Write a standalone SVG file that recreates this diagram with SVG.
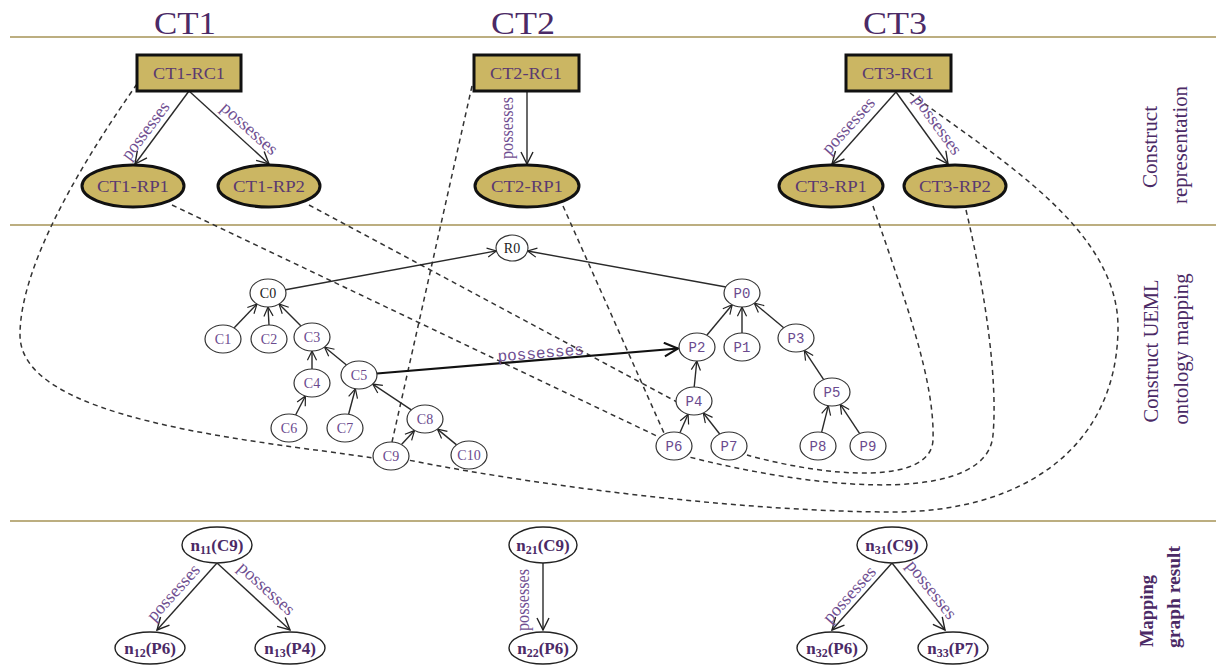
<svg xmlns="http://www.w3.org/2000/svg" width="1216" height="666" viewBox="0 0 1216 666">
<defs>
<style>
.sep{stroke:#bcae80;stroke-width:2}
.title{font-family:"Liberation Serif",serif;font-size:32px;fill:#4b2a66;text-anchor:middle}
.side{font-family:"Liberation Serif",serif;font-size:20px;fill:#4b2a66;text-anchor:middle}
.sideb{font-family:"Liberation Serif",serif;font-size:19px;font-weight:bold;fill:#4b2a66;text-anchor:start}
.box{fill:#cbb663;stroke:#111;stroke-width:3}
.btxt{font-family:"Liberation Serif",serif;font-size:17px;fill:#5a3a70;text-anchor:middle}
.edge{stroke:#2a2a2a;stroke-width:1.4;fill:none}
.thick{stroke:#111;stroke-width:2.2;fill:none}
.dash{stroke:#333;stroke-width:1.5;fill:none;stroke-dasharray:5 4}
.lbl{font-family:"Liberation Serif",serif;font-size:18px;fill:#6f4f91;text-anchor:middle}
.mlbl{font-family:"Liberation Mono",monospace;font-size:16px;fill:#6f4f91;text-anchor:middle}
.tn{fill:#fff;stroke:#333;stroke-width:1.2}
.ct{font-family:"Liberation Serif",serif;font-size:14px;fill:#6a4a8e;text-anchor:middle}
.ck{font-family:"Liberation Serif",serif;font-size:14px;fill:#222;text-anchor:middle}
.pt{font-family:"Liberation Mono",monospace;font-size:14px;fill:#6a4a8e;text-anchor:middle}
.bn{fill:#fff;stroke:#222;stroke-width:1.4}
.nt{font-family:"Liberation Serif",serif;font-size:17px;font-weight:bold;fill:#4b2a66;text-anchor:middle}
</style>
<marker id="arrL" viewBox="0 0 14 14" refX="13" refY="7" markerWidth="14" markerHeight="14" markerUnits="userSpaceOnUse" orient="auto"><path d="M1,1 L13,7 L1,13" fill="none" stroke="#222" stroke-width="1.4"/></marker>
<marker id="arrS" viewBox="0 0 12 12" refX="11" refY="6" markerWidth="11" markerHeight="11" markerUnits="userSpaceOnUse" orient="auto"><path d="M1,1 L11,6 L1,11" fill="none" stroke="#222" stroke-width="1.3"/></marker>
<marker id="arrT" viewBox="0 0 14 14" refX="13" refY="7" markerWidth="16" markerHeight="16" markerUnits="userSpaceOnUse" orient="auto"><path d="M1,1 L13,7 L1,13" fill="none" stroke="#111" stroke-width="1.8"/></marker>
</defs>

<g id="separators">
<line class="sep" x1="10" y1="37" x2="1216" y2="37"/>
<line class="sep" x1="10" y1="225" x2="1216" y2="225"/>
<line class="sep" x1="10" y1="521" x2="1216" y2="521"/>
</g>

<g id="titles">
<text class="title" x="185" y="34" textLength="62" lengthAdjust="spacingAndGlyphs">CT1</text>
<text class="title" x="523" y="34" textLength="64" lengthAdjust="spacingAndGlyphs">CT2</text>
<text class="title" x="895" y="34" textLength="64" lengthAdjust="spacingAndGlyphs">CT3</text>
</g>

<g id="side-labels">
<text class="side" transform="translate(1157,147) rotate(-90)" textLength="82" lengthAdjust="spacingAndGlyphs">Construct</text>
<text class="side" transform="translate(1187,145) rotate(-90)" textLength="118" lengthAdjust="spacingAndGlyphs">representation</text>
<text class="side" transform="translate(1158,351) rotate(-90)" textLength="143" lengthAdjust="spacingAndGlyphs">Construct  UEML</text>
<text class="side" transform="translate(1188,349) rotate(-90)" textLength="151" lengthAdjust="spacingAndGlyphs">ontology mapping</text>
<text class="sideb" transform="translate(1153,647) rotate(-90)" textLength="72" lengthAdjust="spacingAndGlyphs">Mapping</text>
<text class="sideb" transform="translate(1180,648) rotate(-90)" textLength="102" lengthAdjust="spacingAndGlyphs">graph result</text>
</g>

<g id="connectors">
<path class="dash" d="M137,84 C92,148 20,260 20,335 C20,420 250,440 374,458"/>
<path class="dash" d="M910,93 C1000,160 1120,230 1118,330 C1116,450 1020,512 893,512 C760,512 560,490 408,460"/>
<path class="dash" d="M873,206 C905,300 935,380 933,440 C931,485 830,478 747,455"/>
<path class="dash" d="M966,210 C985,290 998,380 993,435 C988,500 840,495 689,457"/>
<line class="dash" x1="172" y1="205" x2="661" y2="438"/>
<line class="dash" x1="309" y1="205" x2="677" y2="402"/>
<line class="dash" x1="563" y1="206" x2="664" y2="433"/>
<line class="dash" x1="472" y1="86" x2="392" y2="442"/>

<line class="edge" x1="189" y1="91" x2="135" y2="164" marker-end="url(#arrL)"/>
<line class="edge" x1="189" y1="91" x2="269" y2="164" marker-end="url(#arrL)"/>
<line class="edge" x1="527" y1="91" x2="527" y2="164" marker-end="url(#arrL)"/>
<line class="edge" x1="896" y1="92" x2="832" y2="164" marker-end="url(#arrL)"/>
<line class="edge" x1="896" y1="92" x2="948" y2="164" marker-end="url(#arrL)"/>
<text class="lbl" transform="translate(146,131) rotate(-53)" y="5" textLength="68" lengthAdjust="spacingAndGlyphs">possesses</text>
<text class="lbl" transform="translate(249,129) rotate(42)" y="5" textLength="70" lengthAdjust="spacingAndGlyphs">possesses</text>
<text class="lbl" transform="translate(508,128) rotate(-90)" y="5" textLength="62" lengthAdjust="spacingAndGlyphs">possesses</text>
<text class="lbl" transform="translate(849,126) rotate(-48)" y="5" textLength="70" lengthAdjust="spacingAndGlyphs">possesses</text>
<text class="lbl" transform="translate(937,125) rotate(54)" y="5" textLength="70" lengthAdjust="spacingAndGlyphs">possesses</text>

<line class="edge" x1="234" y1="328" x2="257" y2="304" marker-end="url(#arrS)"/>
<line class="edge" x1="269" y1="325" x2="268" y2="307" marker-end="url(#arrS)"/>
<line class="edge" x1="301" y1="326" x2="279" y2="304" marker-end="url(#arrS)"/>
<line class="edge" x1="312" y1="369" x2="312" y2="351" marker-end="url(#arrS)"/>
<line class="edge" x1="346.5" y1="365" x2="324.5" y2="347" marker-end="url(#arrS)"/>
<line class="edge" x1="295.6" y1="415" x2="305.4" y2="396" marker-end="url(#arrS)"/>
<line class="edge" x1="348.6" y1="414.3" x2="355.4" y2="388.7" marker-end="url(#arrS)"/>
<line class="edge" x1="411.3" y1="409.9" x2="372.7" y2="384.1" marker-end="url(#arrS)"/>
<line class="edge" x1="401.5" y1="444.6" x2="414.5" y2="430.6" marker-end="url(#arrS)"/>
<line class="edge" x1="456.6" y1="444.9" x2="437.4" y2="429.1" marker-end="url(#arrS)"/>
<line class="edge" x1="285.5" y1="289.8" x2="496.4" y2="250.9" marker-end="url(#arrS)"/>
<line class="edge" x1="726" y1="287" x2="527.6" y2="251" marker-end="url(#arrS)"/>
<line class="edge" x1="706.8" y1="335.3" x2="732.2" y2="304.7" marker-end="url(#arrS)"/>
<line class="edge" x1="742" y1="333" x2="742" y2="307" marker-end="url(#arrS)"/>
<line class="edge" x1="783.7" y1="327.8" x2="754.3" y2="303.2" marker-end="url(#arrS)"/>
<line class="edge" x1="694.2" y1="387" x2="696.8" y2="361" marker-end="url(#arrS)"/>
<line class="edge" x1="823.7" y1="379.6" x2="804.3" y2="350.4" marker-end="url(#arrS)"/>
<line class="edge" x1="679.9" y1="432.8" x2="688.1" y2="414.2" marker-end="url(#arrS)"/>
<line class="edge" x1="719.7" y1="434" x2="703.3" y2="413" marker-end="url(#arrS)"/>
<line class="edge" x1="821.6" y1="432.3" x2="828.4" y2="405.7" marker-end="url(#arrS)"/>
<line class="edge" x1="859.7" y1="433.6" x2="840.3" y2="404.4" marker-end="url(#arrS)"/>
<line class="thick" x1="376.9" y1="373.5" x2="678" y2="348.5" marker-end="url(#arrT)"/>
<text class="mlbl" transform="translate(541,358) rotate(-4.5)">possesses</text>

<line class="edge" x1="217" y1="563" x2="157" y2="630" marker-end="url(#arrL)"/>
<line class="edge" x1="217" y1="563" x2="290" y2="630" marker-end="url(#arrL)"/>
<line class="edge" x1="543" y1="563" x2="543" y2="630" marker-end="url(#arrL)"/>
<line class="edge" x1="892" y1="563" x2="832" y2="630" marker-end="url(#arrL)"/>
<line class="edge" x1="892" y1="563" x2="945" y2="630" marker-end="url(#arrL)"/>
<text class="lbl" transform="translate(174,593) rotate(-48)" y="5" textLength="70" lengthAdjust="spacingAndGlyphs">possesses</text>
<text class="lbl" transform="translate(266,589) rotate(42.5)" y="5" textLength="70" lengthAdjust="spacingAndGlyphs">possesses</text>
<text class="lbl" transform="translate(524,600) rotate(-90)" y="5" textLength="62" lengthAdjust="spacingAndGlyphs">possesses</text>
<text class="lbl" transform="translate(850,595) rotate(-48)" y="5" textLength="70" lengthAdjust="spacingAndGlyphs">possesses</text>
<text class="lbl" transform="translate(931,590) rotate(51.7)" y="5" textLength="70" lengthAdjust="spacingAndGlyphs">possesses</text>
</g>

<g id="CT1-RC1"><rect class="box" x="137" y="55" width="104" height="36"/><text class="btxt" x="189" y="79" textLength="72" lengthAdjust="spacingAndGlyphs">CT1-RC1</text></g>
<g id="CT2-RC1"><rect class="box" x="474" y="55" width="105" height="36"/><text class="btxt" x="526" y="79" textLength="72" lengthAdjust="spacingAndGlyphs">CT2-RC1</text></g>
<g id="CT3-RC1"><rect class="box" x="846" y="55" width="105" height="36"/><text class="btxt" x="898" y="79" textLength="72" lengthAdjust="spacingAndGlyphs">CT3-RC1</text></g>
<g id="CT1-RP1"><ellipse class="box" cx="133" cy="186" rx="51" ry="21"/><text class="btxt" x="133" y="192" textLength="72" lengthAdjust="spacingAndGlyphs">CT1-RP1</text></g>
<g id="CT1-RP2"><ellipse class="box" cx="269" cy="186" rx="51" ry="21"/><text class="btxt" x="269" y="192" textLength="72" lengthAdjust="spacingAndGlyphs">CT1-RP2</text></g>
<g id="CT2-RP1"><ellipse class="box" cx="527" cy="186" rx="52" ry="21"/><text class="btxt" x="527" y="192" textLength="72" lengthAdjust="spacingAndGlyphs">CT2-RP1</text></g>
<g id="CT3-RP1"><ellipse class="box" cx="831" cy="186" rx="52" ry="21"/><text class="btxt" x="831" y="192" textLength="72" lengthAdjust="spacingAndGlyphs">CT3-RP1</text></g>
<g id="CT3-RP2"><ellipse class="box" cx="955" cy="186" rx="51" ry="21"/><text class="btxt" x="955" y="192" textLength="72" lengthAdjust="spacingAndGlyphs">CT3-RP2</text></g>

<g id="R0"><ellipse class="tn" cx="512" cy="248" rx="16" ry="13"/><text class="ck" x="512" y="253">R0</text></g>
<g id="C0"><ellipse class="tn" cx="268" cy="293" rx="18" ry="14"/><text class="ck" x="268" y="298">C0</text></g>
<g id="C1"><ellipse class="tn" cx="223" cy="339" rx="18" ry="14"/><text class="ct" x="223" y="344">C1</text></g>
<g id="C2"><ellipse class="tn" cx="269" cy="339" rx="18" ry="14"/><text class="ct" x="269" y="344">C2</text></g>
<g id="C3"><ellipse class="tn" cx="312" cy="337" rx="18" ry="14"/><text class="ct" x="312" y="342">C3</text></g>
<g id="C4"><ellipse class="tn" cx="312" cy="383" rx="18" ry="14"/><text class="ct" x="312" y="388">C4</text></g>
<g id="C5"><ellipse class="tn" cx="359" cy="375" rx="18" ry="14"/><text class="ct" x="359" y="380">C5</text></g>
<g id="C6"><ellipse class="tn" cx="289" cy="428" rx="18" ry="14"/><text class="ct" x="289" y="433">C6</text></g>
<g id="C7"><ellipse class="tn" cx="345" cy="428" rx="18" ry="14"/><text class="ct" x="345" y="433">C7</text></g>
<g id="C8"><ellipse class="tn" cx="425" cy="419" rx="18" ry="14"/><text class="ct" x="425" y="424">C8</text></g>
<g id="C9"><ellipse class="tn" cx="391" cy="456" rx="18" ry="14"/><text class="ct" x="391" y="461">C9</text></g>
<g id="C10"><ellipse class="tn" cx="469" cy="455" rx="18" ry="14"/><text class="ct" x="469" y="460">C10</text></g>
<g id="P0"><ellipse class="tn" cx="742" cy="293" rx="18" ry="14"/><text class="pt" x="742" y="298">P0</text></g>
<g id="P1"><ellipse class="tn" cx="742" cy="347" rx="18" ry="14"/><text class="pt" x="742" y="352">P1</text></g>
<g id="P2"><ellipse class="tn" cx="697" cy="347" rx="18" ry="14"/><text class="pt" x="697" y="352">P2</text></g>
<g id="P3"><ellipse class="tn" cx="796" cy="338" rx="18" ry="14"/><text class="pt" x="796" y="343">P3</text></g>
<g id="P4"><ellipse class="tn" cx="694" cy="401" rx="18" ry="14"/><text class="pt" x="694" y="406">P4</text></g>
<g id="P5"><ellipse class="tn" cx="832" cy="392" rx="18" ry="14"/><text class="pt" x="832" y="397">P5</text></g>
<g id="P6"><ellipse class="tn" cx="674" cy="446" rx="18" ry="14"/><text class="pt" x="674" y="451">P6</text></g>
<g id="P7"><ellipse class="tn" cx="729" cy="446" rx="18" ry="14"/><text class="pt" x="729" y="451">P7</text></g>
<g id="P8"><ellipse class="tn" cx="818" cy="446" rx="18" ry="14"/><text class="pt" x="818" y="451">P8</text></g>
<g id="P9"><ellipse class="tn" cx="868" cy="446" rx="18" ry="14"/><text class="pt" x="868" y="451">P9</text></g>

<g id="n11"><ellipse class="bn" cx="217" cy="545" rx="35" ry="18"/><text class="nt" x="217" y="551">n<tspan font-size="12" dy="3">11</tspan><tspan dy="-3">(C9)</tspan></text></g>
<g id="n12"><ellipse class="bn" cx="150" cy="648" rx="35" ry="16"/><text class="nt" x="150" y="654">n<tspan font-size="12" dy="3">12</tspan><tspan dy="-3">(P6)</tspan></text></g>
<g id="n13"><ellipse class="bn" cx="290" cy="648" rx="35" ry="16"/><text class="nt" x="290" y="654">n<tspan font-size="12" dy="3">13</tspan><tspan dy="-3">(P4)</tspan></text></g>
<g id="n21"><ellipse class="bn" cx="543" cy="545" rx="34" ry="18"/><text class="nt" x="543" y="551">n<tspan font-size="12" dy="3">21</tspan><tspan dy="-3">(C9)</tspan></text></g>
<g id="n22"><ellipse class="bn" cx="543" cy="648" rx="34" ry="16"/><text class="nt" x="543" y="654">n<tspan font-size="12" dy="3">22</tspan><tspan dy="-3">(P6)</tspan></text></g>
<g id="n31"><ellipse class="bn" cx="892" cy="545" rx="35" ry="18"/><text class="nt" x="892" y="551">n<tspan font-size="12" dy="3">31</tspan><tspan dy="-3">(C9)</tspan></text></g>
<g id="n32"><ellipse class="bn" cx="832" cy="648" rx="35" ry="16"/><text class="nt" x="832" y="654">n<tspan font-size="12" dy="3">32</tspan><tspan dy="-3">(P6)</tspan></text></g>
<g id="n33"><ellipse class="bn" cx="953" cy="648" rx="35" ry="16"/><text class="nt" x="953" y="654">n<tspan font-size="12" dy="3">33</tspan><tspan dy="-3">(P7)</tspan></text></g>
</svg>
